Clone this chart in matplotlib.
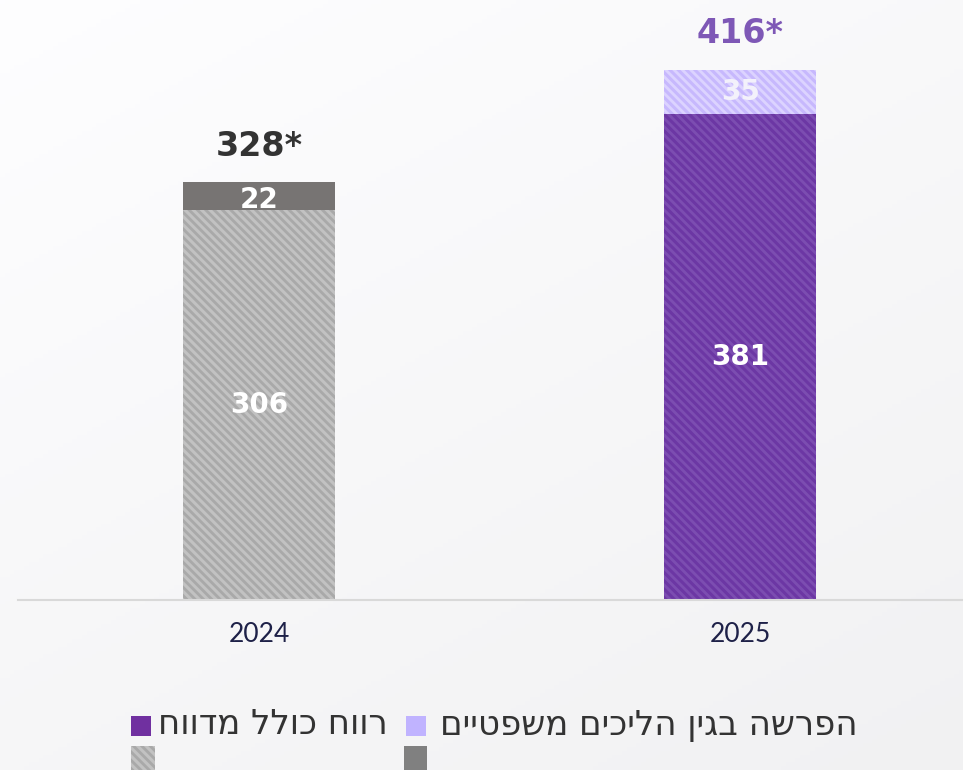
import matplotlib
matplotlib.use("Agg")
import matplotlib.pyplot as plt
import numpy as np
from matplotlib.patches import Rectangle
import matplotlib as mpl

mpl.rcParams['hatch.linewidth'] = 2.2

years = ["2024", "2025"]
base_values = [306, 381]
top_values = [22, 35]
totals = ["328*", "416*"]
legend_labels = ["רווח כולל מדווח", "הפרשה בגין הליכים משפטיים"]

base_face = ["#a9a9a9", "#7c4db1"]
base_hatch = ["#c2c2c2", "#6c37a4"]
top_face = ["#777473", "#dcd3ff"]
top_hatch = ["#777473", "#c7b8fd"]
total_colors = ["#333333", "#7e58b6"]
top_label_colors = ["white", "#f3f1fb"]
top_label_offset = [-3, 0]


def rtl(s):
    return s[::-1]


W, H = 963, 770
fig = plt.figure(figsize=(W / 100, H / 100), dpi=100)

# background gradient
bg = fig.add_axes([0, 0, 1, 1], zorder=-10)
yy, xx = np.mgrid[0:1:200j, 0:1:200j]
grad = 1 - 0.05 * (0.6 * yy + 0.4 * xx)
bg.imshow(np.dstack([grad * 0.995, grad * 0.995, grad]), extent=[0, 1, 0, 1],
          aspect='auto', origin='upper')
bg.axis('off')

ax = fig.add_axes([18 / W, 170 / H, 1 - 18 / W, 600 / H])
ax.set_facecolor('none')
x = np.arange(len(years))
bw = 0.316
numfont = 'DejaVu Sans'
for i in range(len(years)):
    ax.bar(x[i], base_values[i], width=bw, color=base_face[i], edgecolor=base_hatch[i],
           hatch='\\\\\\\\', linewidth=0)
    ax.bar(x[i], top_values[i], bottom=base_values[i], width=bw, color=top_face[i],
           edgecolor=top_hatch[i], hatch='\\\\\\\\', linewidth=0)
    ax.text(x[i], base_values[i] / 2, str(base_values[i]), ha='center', va='center',
            color='white', fontsize=20, fontweight='bold', family=numfont)
    ax.text(x[i], base_values[i] + top_values[i] / 2 + top_label_offset[i], str(top_values[i]),
            ha='center', va='center', color=top_label_colors[i], fontsize=20,
            fontweight='bold', family=numfont)
    ax.text(x[i], base_values[i] + top_values[i] + 28, totals[i], ha='center', va='center',
            color=total_colors[i], fontsize=24, fontweight='bold', family=numfont)

ax.set_xlim(-0.501, 1.463)
ax.set_ylim(0, 470.6)
ax.set_xticks(x)
ax.set_xticklabels(years, fontsize=19, color='#1e2148', family='Lato')
ax.tick_params(axis='x', length=0, pad=16)
ax.set_yticks([])
for s in ['top', 'right', 'left']:
    ax.spines[s].set_visible(False)
ax.spines['bottom'].set_color('#d9d9d9')
ax.spines['bottom'].set_linewidth(1.5)

# legend (manual, RTL)
legend_face = ["#7030a0", "#c0b3ff"]
sq = [(131, 716), (406, 716)]
txt_right = [388, 857]
for i, lab in enumerate(legend_labels):
    x0, y0 = sq[i]
    fig.add_artist(Rectangle((x0 / W, 1 - (y0 + 20) / H), 20 / W, 20 / H,
                             transform=fig.transFigure, facecolor=legend_face[i], edgecolor='none'))
    fig.text(txt_right[i] / W, 1 - 725 / H, rtl(lab), ha='right', va='center',
             fontsize=24.5, color='#333333', family='DejaVu Sans')
sq2 = [(131, 746), (404, 746)]
for i in range(2):
    x0, y0 = sq2[i]
    if i == 0:
        fig.add_artist(Rectangle((x0 / W, 1 - (y0 + 24) / H), 24 / W, 24 / H,
                                 transform=fig.transFigure, facecolor=base_face[0],
                                 edgecolor=base_hatch[0], hatch='\\\\\\\\', linewidth=0))
    else:
        fig.add_artist(Rectangle((x0 / W, 1 - (y0 + 24) / H), 23 / W, 24 / H,
                                 transform=fig.transFigure, facecolor='#808080', edgecolor='none'))

fig.savefig("out.png", dpi=100)
